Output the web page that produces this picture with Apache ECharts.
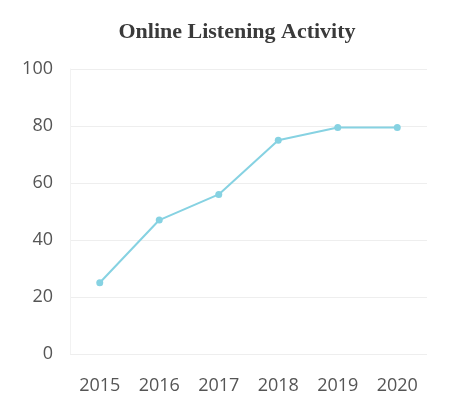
<!DOCTYPE html>
<html><head><meta charset="utf-8">
<script src="https://cdn.jsdelivr.net/npm/echarts@6/dist/echarts.min.js"></script>
<style>html,body{margin:0;padding:0;background:#fff}#c{width:474px;height:402px}</style>
</head><body><div id="c"></div>
<script>
const years = ['2015','2016','2017','2018','2019','2020'];
const activity = [25, 47, 56, 75, 79.5, 79.5];
const yTicks = [0, 20, 40, 60, 80, 100];

const chart = echarts.init(document.getElementById('c'));
chart.setOption({
  backgroundColor: '#fff',
  animation: false,
  title: {
    text: 'Online Listening Activity',
    left: 232, top: 16, textAlign: 'center',
    textStyle: {fontFamily: 'Liberation Serif', fontWeight: 'bold', fontSize: 22, color: '#3a3a3a'}
  },
  grid: {left: 70, right: 47, top: 69, bottom: 48},
  xAxis: {
    type: 'category', data: years, boundaryGap: true,
    axisLine: {show: false}, axisTick: {show: false},
    axisLabel: {fontFamily: 'Open Sans', fontSize: 18, color: '#555', margin: 23}
  },
  yAxis: {
    type: 'value', min: yTicks[0], max: yTicks[yTicks.length-1], interval: 20,
    axisLine: {show: true, lineStyle: {color: '#f2f2f2'}}, axisTick: {show: false},
    axisLabel: {fontFamily: 'Open Sans', fontSize: 18, color: '#555', margin: 17},
    splitLine: {lineStyle: {color: '#eeeeee'}}
  },
  series: [{
    type: 'line', data: activity,
    symbol: 'circle', symbolSize: 7,
    lineStyle: {color: '#86d2e2', width: 2},
    itemStyle: {color: '#86d2e2'}
  }]
});
</script></body></html>
